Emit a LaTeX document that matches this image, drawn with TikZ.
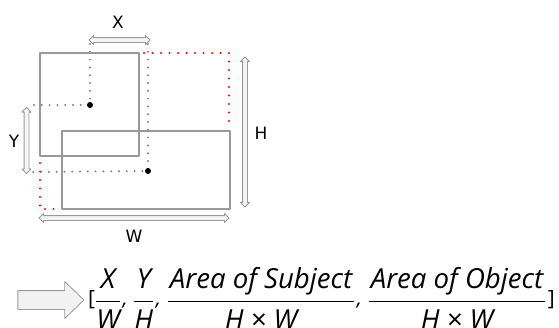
\documentclass[tikz,border=0pt]{standalone}
\usepackage{amsmath}
\usepackage{fontspec}
\setmainfont{DejaVu Sans}
\newfontfamily\eqfont{Open Sans}
\usetikzlibrary{shapes.arrows}
% fraction with a thicker bar and more room round it
\newcommand{\fr}[2]{\genfrac{}{}{1.5pt}{0}{\text{\hspace{2pt}#1\hspace{2pt}}\rule[-7.7pt]{0pt}{7.7pt}}{\rule{0pt}{23pt}\text{#2}}}
% brackets and commas sit just under the fraction bar
\newcommand{\onbar}[1]{\text{\raisebox{2.5pt}{\fontsize{21}{21}\selectfont#1}}}

\begin{document}
\begin{tikzpicture}[x=1pt,y=-1pt,line join=round,line cap=round,font=\fontsize{17}{20}\selectfont,
    box/.style={draw=gray!80,line width=2.6pt},
    guide/.style={draw=gray,line width=2.2pt,dash pattern=on 0pt off 7.8pt},
    reddot/.style={draw=red,line width=2.2pt,dash pattern=on 0pt off 8.5pt},
    dimarrow/.style={double arrow,draw=gray!80,fill=gray!8,line width=0.8pt,inner sep=2pt,
        double arrow head extend=2.2pt,double arrow tip angle=90},
    bigarrow/.style={single arrow,draw=gray!80,fill=gray!10,line width=0.8pt,inner sep=9pt,
        single arrow head extend=9pt,single arrow tip angle=88}]
    \useasboundingbox (0,0) rectangle (559,327);
    \clip (0,0) rectangle (559,327);
    % centres of the two boxes
    \path
    (90,105) coordinate (cs)
    (148,171) coordinate (co);
    % guide lines from the centres
    \draw[guide] (90,44) -- (cs) -- (33,105);
    \draw[guide] (148,44) -- (co) -- (33,172);
    % subject and object boxes
    \draw[box] (40,53) rectangle (139,156);
    \draw[box] (62,131) rectangle (230,209);
    % union box (dotted red)
    \draw[reddot] (144,53) -- (229,53) -- (229,123);
    \draw[reddot] (40,163) -- (40,209) -- (57,209);
    \fill (cs) circle (3pt);
    \fill (co) circle (3pt);
    % dimension arrows
    \node[dimarrow,minimum height=61pt] (xarr) at (119.5,40) {};
    \node[dimarrow,minimum height=66pt,rotate=90] (yarr) at (26.5,140.5) {};
    \node[dimarrow,minimum height=150pt,rotate=90] (harr) at (245,132) {};
    \node[dimarrow,minimum height=190pt] (warr) at (134,218) {};
    \node (xlab) at (118,22) {X};
    \node (ylab) at (14,141) {Y};
    \node (hlab) at (261,133) {H};
    \node (wlab) at (134,236) {W};
    % resulting vector
    \node[bigarrow,minimum height=66pt] (res) at (46,300) {};
    \node[anchor=base west,inner sep=0pt,font=\fontsize{27.6}{30}\selectfont\eqfont\itshape] (vec) at (88,307.8)
        {$\onbar{\upshape[}\fr{X}{W}\onbar{\hspace{1.5pt},}\mkern4mu\fr{Y}{H}\onbar{\hspace{1.5pt},}\mkern4mu\fr{Area of Subject}{H × W}\onbar{\hspace{1.5pt},}\mkern4mu\fr{Area of Object}{H × W}\onbar{\hspace{1.5pt}\upshape]}$};
\end{tikzpicture}
\end{document}
